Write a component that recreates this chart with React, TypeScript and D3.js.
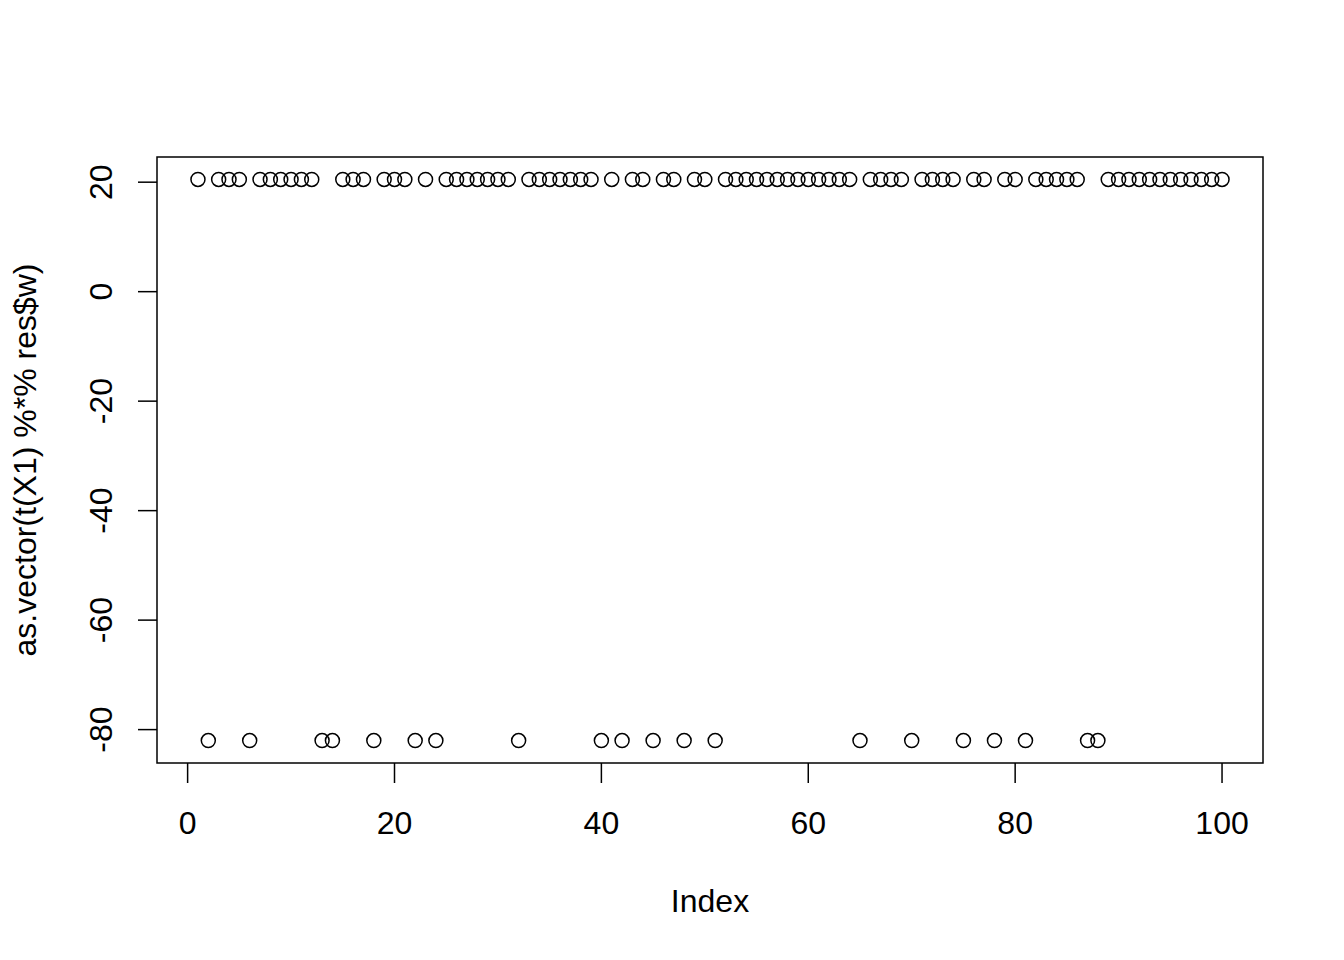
import * as d3 from "d3";
import { useEffect, useRef } from "react";

// indices whose value sits at the low level; everything else is at the high level
const lowIndices = [2, 6, 13, 14, 18, 22, 24, 32, 40, 42, 45, 48, 51, 65, 70, 75, 78, 81, 87, 88];
const highValue = 20.5;
const lowValue = -82;
const indices = d3.range(1, 101);
const values = indices.map((i) => (lowIndices.includes(i) ? lowValue : highValue));

const xTicks = [0, 20, 40, 60, 80, 100];
const yTicks = [-80, -60, -40, -20, 0, 20];

export default function App() {
  const svgRef = useRef<SVGSVGElement | null>(null);

  useEffect(() => {
    const width = 1344;
    const height = 960;
    const left = 157;
    const right = 1263;
    const top = 157;
    const bottom = 763;
    const font = "Liberation Sans, Arial, sans-serif";
    const fontSize = 32;

    const svg = d3.select(svgRef.current);
    svg.selectAll("*").remove();
    svg.append("rect").attr("width", width).attr("height", height).attr("fill", "#fff");

    // R-style 4% padding of the data range
    const [xmin, xmax] = d3.extent(indices) as [number, number];
    const xpad = (xmax - xmin) * 0.04;
    const [ymin, ymax] = d3.extent(values) as [number, number];
    const ypad = (ymax - ymin) * 0.04;

    const x = d3.scaleLinear().domain([xmin - xpad, xmax + xpad]).range([left, right]);
    const y = d3.scaleLinear().domain([ymin - ypad, ymax + ypad]).range([bottom, top]);

    svg
      .append("rect")
      .attr("x", left)
      .attr("y", top)
      .attr("width", right - left)
      .attr("height", bottom - top)
      .attr("fill", "none")
      .attr("stroke", "#000")
      .attr("stroke-width", 1.5);

    svg
      .append("g")
      .selectAll("circle")
      .data(indices)
      .join("circle")
      .attr("cx", (d) => x(d))
      .attr("cy", (d, i) => y(values[i]))
      .attr("r", 7)
      .attr("fill", "none")
      .attr("stroke", "#000")
      .attr("stroke-width", 1.5);

    // x axis (ticks hang off the box edge)
    const gx = svg.append("g");
    gx.selectAll("line")
      .data(xTicks)
      .join("line")
      .attr("x1", (d) => x(d))
      .attr("x2", (d) => x(d))
      .attr("y1", bottom)
      .attr("y2", bottom + 20)
      .attr("stroke", "#000")
      .attr("stroke-width", 1.5);
    gx.selectAll("text")
      .data(xTicks)
      .join("text")
      .attr("x", (d) => x(d))
      .attr("y", 834)
      .attr("text-anchor", "middle")
      .style("font", `${fontSize}px ${font}`)
      .text((d) => d);

    // y axis
    const gy = svg.append("g");
    gy.selectAll("line")
      .data(yTicks)
      .join("line")
      .attr("x1", left - 19)
      .attr("x2", left)
      .attr("y1", (d) => y(d))
      .attr("y2", (d) => y(d))
      .attr("stroke", "#000")
      .attr("stroke-width", 1.5);
    gy.selectAll("text")
      .data(yTicks)
      .join("text")
      .attr("transform", (d) => `translate(112,${y(d)}) rotate(-90)`)
      .attr("text-anchor", "middle")
      .style("font", `${fontSize}px ${font}`)
      .text((d) => d);

    svg
      .append("text")
      .attr("x", (left + right) / 2)
      .attr("y", 912)
      .attr("text-anchor", "middle")
      .style("font", `${fontSize}px ${font}`)
      .text("Index");

    svg
      .append("text")
      .attr("transform", `translate(36,${(top + bottom) / 2}) rotate(-90)`)
      .attr("text-anchor", "middle")
      .style("font", `${fontSize}px ${font}`)
      .text("as.vector(t(X1) %*% res$w)");
  }, []);

  return (
    <svg
      ref={svgRef}
      width={1344}
      height={960}
      style={{ position: "absolute", left: 0, top: 0 }}
    />
  );
}
